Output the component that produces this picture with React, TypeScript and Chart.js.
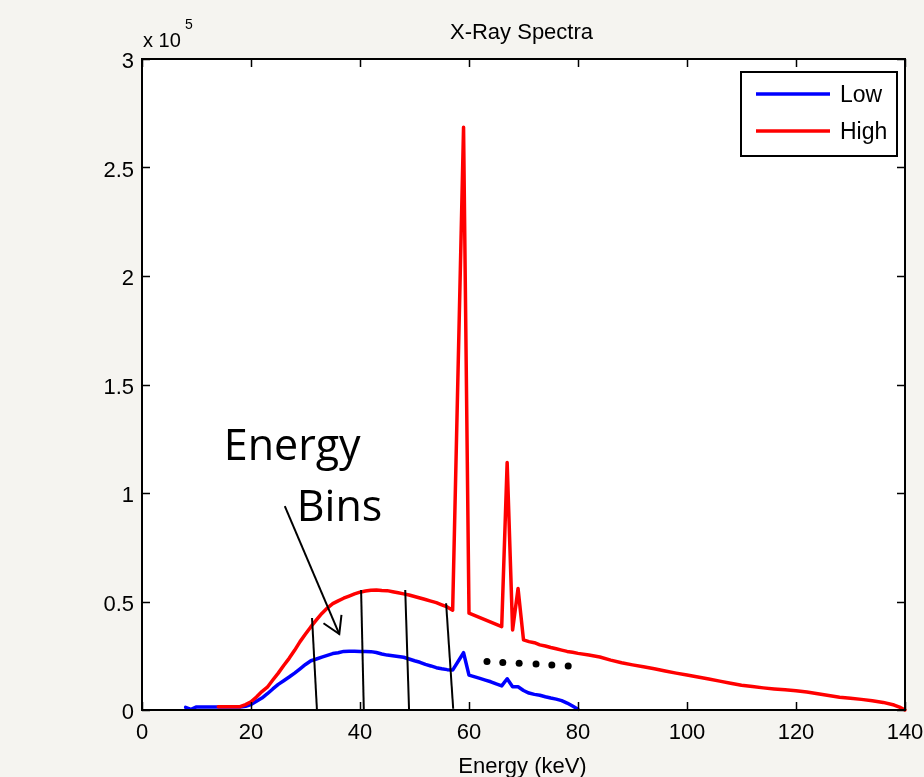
import React, { useEffect, useRef } from "react";
import { Chart, registerables } from "chart.js";

Chart.register(...registerables);

// ---- Data ----
const lowEnergy = [8, 9, 10, 12, 14, 16, 18, 19, 20, 21, 22, 23, 24, 25, 26, 27, 28, 29, 30, 31, 32, 33, 34, 35, 36, 37, 38, 39, 40, 41, 42, 43, 44, 45, 46, 47, 48, 49, 50, 51, 52, 53, 54, 55, 56, 57, 59, 60, 62, 63, 64, 65, 66, 67, 68, 69, 70, 71, 72, 73, 74, 75, 76, 77, 78, 79, 80];
const lowCounts = [1200, 300, 1400, 1400, 1400, 1400, 1400, 1700, 2500, 4000, 5500, 7500, 9700, 11800, 13500, 15200, 17000, 19000, 21000, 22700, 23500, 24400, 25200, 26000, 26400, 27000, 27100, 27100, 27000, 27000, 26900, 26500, 25800, 25300, 25000, 24700, 24300, 23500, 22700, 22000, 21000, 20300, 19500, 19000, 18600, 18400, 26400, 16100, 14600, 13800, 13000, 12000, 11100, 14400, 10700, 10700, 9000, 7800, 7200, 6800, 6100, 5500, 5000, 4300, 3200, 1800, 300];

const highEnergy = [14, 16, 18, 19, 20, 21, 22, 23, 24, 25, 26, 27, 28, 29, 30, 31, 32, 33, 34, 35, 36, 37, 38, 39, 40, 41, 42, 43, 44, 45, 46, 47, 48, 49, 50, 51, 52, 53, 54, 55, 56, 57, 59, 60, 66, 67, 68, 69, 70, 71, 72, 73, 74, 75, 76, 77, 78, 79, 80, 82, 84, 86, 88, 90, 92, 94, 96, 98, 100, 102, 104, 106, 108, 110, 112, 114, 116, 118, 120, 122, 124, 126, 128, 130, 132, 134, 136, 138, 139, 140];
const highCounts = [1500, 1500, 1500, 2500, 3800, 6000, 8500, 10500, 13800, 17000, 20500, 23800, 27500, 31500, 35000, 38400, 41500, 44500, 47000, 49000, 50300, 51500, 52500, 53500, 54300, 54800, 55200, 55300, 55100, 55000, 54500, 54000, 53500, 53000, 52300, 51600, 50900, 50200, 49500, 48500, 47500, 46000, 268500, 44600, 38400, 114000, 36900, 56000, 32300, 31500, 31000, 30000, 29500, 28800, 28200, 27600, 27000, 26600, 26100, 25300, 24400, 23000, 21800, 20800, 19900, 19000, 18000, 17000, 16100, 15200, 14300, 13300, 12300, 11400, 10800, 10200, 9700, 9300, 8900, 8300, 7500, 6700, 5900, 5400, 4900, 4300, 3500, 2300, 1300, 0];

// Energy-bin boundary marks (top point -> bottom point)
const binTopEnergy = [31.2, 40.2, 48.3, 55.8];
const binTopCounts = [42400, 55300, 55300, 49200];
const binBottomEnergy = [32.1, 40.7, 49.0, 57.1];
const binBottomCounts = [0, 0, 0, 600];

// Arrow from the "Energy Bins" label
const arrowEnergy = [26.2, 36.2];
const arrowCounts = [94000, 35000];
const arrowHeadEnergy = [33.3, 36.2, 36.6];
const arrowHeadCounts = [40000, 35000, 43800];

// Ellipsis dots
const dotEnergy = [63.3, 66.2, 69.2, 72.3, 75.2, 78.2];
const dotCounts = [22400, 21900, 21600, 21200, 20700, 20300];

// Axis ticks
const xTicks = [0, 20, 40, 60, 80, 100, 120, 140];
const yTicks = [0, 50000, 100000, 150000, 200000, 250000, 300000];

const seriesNames = ["Low", "High"];
const seriesColors = ["#0000ff", "#ff0000"];

const BG = "#f5f4f0";
const FONT = "'Liberation Sans', Arial, sans-serif";

const zip = (xs: number[], ys: number[]) => xs.map((x, i) => ({ x, y: ys[i] }));

const overlay = {
  id: "overlay",
  beforeDraw(chart: any) {
    const { ctx, chartArea: a } = chart;
    ctx.save();
    ctx.fillStyle = BG;
    ctx.fillRect(0, 0, chart.width, chart.height);
    ctx.fillStyle = "#ffffff";
    ctx.fillRect(a.left, a.top, a.right - a.left, a.bottom - a.top);
    ctx.restore();
  },
  afterDraw(chart: any) {
    const { ctx, chartArea: a, scales } = chart;
    const xs = scales.x;
    const ys = scales.y;
    ctx.save();
    // frame
    ctx.strokeStyle = "#000";
    ctx.lineWidth = 2;
    ctx.strokeRect(a.left, a.top, a.right - a.left, a.bottom - a.top);
    // inward ticks (all four sides)
    ctx.lineWidth = 1.5;
    const tl = 8;
    ctx.beginPath();
    xTicks.forEach((v) => {
      const px = Math.round(xs.getPixelForValue(v)) + 0.5;
      ctx.moveTo(px, a.bottom);
      ctx.lineTo(px, a.bottom - tl);
      ctx.moveTo(px, a.top);
      ctx.lineTo(px, a.top + tl);
    });
    yTicks.forEach((v) => {
      const py = Math.round(ys.getPixelForValue(v)) + 0.5;
      ctx.moveTo(a.left, py);
      ctx.lineTo(a.left + tl, py);
      ctx.moveTo(a.right, py);
      ctx.lineTo(a.right - tl, py);
    });
    ctx.stroke();

    // title
    ctx.fillStyle = "#000";
    ctx.textAlign = "center";
    ctx.textBaseline = "alphabetic";
    ctx.font = `22px ${FONT}`;
    ctx.fillText("X-Ray Spectra", (a.left + a.right) / 2 - 2, 39);

    // exponent
    ctx.textAlign = "left";
    ctx.font = `20px ${FONT}`;
    ctx.fillText("x 10", a.left + 1, 47);
    ctx.font = `14px ${FONT}`;
    ctx.fillText("5", a.left + 43, 29);

    // x label
    ctx.textAlign = "center";
    ctx.font = `22px ${FONT}`;
    ctx.fillText("Energy (keV)", (a.left + a.right) / 2 - 1, 773);

    // annotation text
    ctx.textAlign = "left";
    ctx.font = `43px 'Open Sans', 'Noto Sans', sans-serif`;
    ctx.fillText("Energy", xs.getPixelForValue(15.0), ys.getPixelForValue(115200));
    ctx.fillText("Bins", xs.getPixelForValue(28.4), ys.getPixelForValue(87100));

    // legend
    const lx = a.right - 164;
    const ly = a.top + 13;
    const lw = 156;
    const lh = 84;
    ctx.fillStyle = "#fff";
    ctx.fillRect(lx, ly, lw, lh);
    ctx.strokeStyle = "#000";
    ctx.lineWidth = 2;
    ctx.strokeRect(lx, ly, lw, lh);
    ctx.font = `23px ${FONT}`;
    ctx.textBaseline = "middle";
    seriesNames.forEach((name, i) => {
      const yy = ly + 22 + i * 37;
      ctx.strokeStyle = seriesColors[i];
      ctx.lineWidth = 3.5;
      ctx.beginPath();
      ctx.moveTo(lx + 15, yy);
      ctx.lineTo(lx + 89, yy);
      ctx.stroke();
      ctx.fillStyle = "#000";
      ctx.fillText(name, lx + 99, yy + 2);
    });
    ctx.restore();
  },
};

export default function App() {
  const ref = useRef<HTMLCanvasElement | null>(null);
  useEffect(() => {
    if (!ref.current) return;
    const blackLine = (data: any[]) => ({
      data,
      showLine: true,
      borderColor: "#000",
      borderWidth: 2,
      pointRadius: 0,
      tension: 0,
      order: 0,
    });
    const datasets: any[] = [];
    binTopEnergy.forEach((_, i) => {
      datasets.push(
        blackLine([
          { x: binTopEnergy[i], y: binTopCounts[i] },
          { x: binBottomEnergy[i], y: binBottomCounts[i] },
        ])
      );
    });
    datasets.push(blackLine(zip(arrowEnergy, arrowCounts)));
    datasets.push(blackLine(zip(arrowHeadEnergy, arrowHeadCounts)));
    datasets.push({
      data: zip(dotEnergy, dotCounts),
      showLine: false,
      pointRadius: 3.5,
      pointBackgroundColor: "#000",
      pointBorderWidth: 0,
      order: 0,
    });
    datasets.push({
      label: seriesNames[1],
      data: zip(highEnergy, highCounts),
      showLine: true,
      borderColor: seriesColors[1],
      borderWidth: 3.5,
      pointRadius: 0,
      tension: 0,
      borderJoinStyle: "round",
      borderCapStyle: "round",
      order: 1,
    });
    datasets.push({
      label: seriesNames[0],
      data: zip(lowEnergy, lowCounts),
      showLine: true,
      borderColor: seriesColors[0],
      borderWidth: 3.5,
      pointRadius: 0,
      tension: 0,
      borderJoinStyle: "round",
      borderCapStyle: "round",
      order: 2,
    });

    const chart = new Chart(ref.current, {
      type: "scatter",
      data: { datasets },
      options: {
        animation: false,
        responsive: false,
        devicePixelRatio: 1,
        clip: false as any,
        layout: { padding: { top: 59, right: 19, left: 0, bottom: 0 } },
        plugins: {
          legend: { display: false },
          tooltip: { enabled: false },
          title: { display: false },
        },
        events: [],
        scales: {
          x: {
            type: "linear",
            min: 0,
            max: 140,
            afterFit: (s: any) => {
              s.height = 67;
              s.paddingLeft = 0;
              s.paddingRight = 0;
            },
            afterBuildTicks: (s: any) => {
              s.ticks = xTicks.map((v) => ({ value: v }));
            },
            grid: { display: false, drawTicks: false },
            border: { display: false },
            ticks: {
              padding: 10,
              color: "#000",
              font: { family: FONT, size: 22 },
              maxRotation: 0,
              autoSkip: false,
            },
          },
          y: {
            type: "linear",
            min: 0,
            max: 300000,
            afterFit: (s: any) => {
              s.width = 142;
              s.paddingTop = 0;
              s.paddingBottom = 0;
            },
            afterBuildTicks: (s: any) => {
              s.ticks = yTicks.map((v) => ({ value: v }));
            },
            grid: { display: false, drawTicks: false },
            border: { display: false },
            ticks: {
              padding: 8,
              labelOffset: 3,
              color: "#000",
              font: { family: FONT, size: 22 },
              callback: (v: any) => String(Number(v) / 100000),
            },
          },
        },
      },
      plugins: [overlay],
    });
    return () => chart.destroy();
  }, []);

  return (
    <div style={{ position: "fixed", left: 0, top: 0, width: 924, height: 777, background: BG }}>
      <canvas ref={ref} width={924} height={777} style={{ display: "block", width: 924, height: 777 }} />
    </div>
  );
}
